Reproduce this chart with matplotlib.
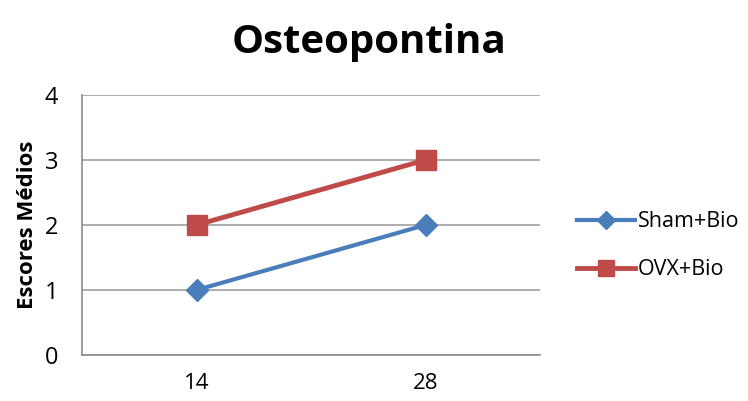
import matplotlib
matplotlib.use("Agg")
import matplotlib.pyplot as plt

categories = ["14", "28"]
sham_bio = [1, 2]
ovx_bio = [2, 3]
y_ticks = [0, 1, 2, 3, 4]

font = "Open Sans"
fig = plt.figure(figsize=(7.48, 4.01), dpi=100)
ax = fig.add_axes([0.1096, 0.1147, 0.6125, 0.6485])

x = list(range(len(categories)))
ax.plot(x, sham_bio, color="#4A7EBB", lw=3, marker="D", ms=11,
        label="Sham+Bio")
ax.plot(x, ovx_bio, color="#BE4B48", lw=3.5, marker="s", ms=14,
        label="OVX+Bio")

ax.set_xlim(-0.5, 1.5)
ax.set_ylim(0, 4)
ax.set_xticks(x)
ax.set_xticklabels(categories, fontsize=16, family=font)
ax.set_yticks(y_ticks)
ax.set_yticklabels([str(t) for t in y_ticks], fontsize=17, family=font)
ax.tick_params(axis="y", length=0, pad=17)
ax.tick_params(axis="x", length=0, pad=13)

ax.grid(axis="y", color="#a0a0a0", lw=1.2)
ax.set_axisbelow(True)
for s in ["top", "right"]:
    ax.spines[s].set_visible(False)
for s in ["left", "bottom"]:
    ax.spines[s].set_color("#8c8c8c")
    ax.spines[s].set_linewidth(1.2)

ax.set_ylabel("Escores Médios", fontsize=16, fontweight="bold", family=font,
              labelpad=5)

fig.text(0.493, 0.895, "Osteopontina", ha="center", va="center",
         fontsize=29, fontweight="bold", family=font)

leg = ax.legend(loc="center left", bbox_to_anchor=(1.08, 0.42), frameon=False,
                prop={"family": font, "size": 15.5}, handlelength=2.7,
                labelspacing=1.25, handletextpad=0.12, markerscale=0.8,
                borderpad=0, borderaxespad=0)

fig.savefig("out.png", dpi=100)
